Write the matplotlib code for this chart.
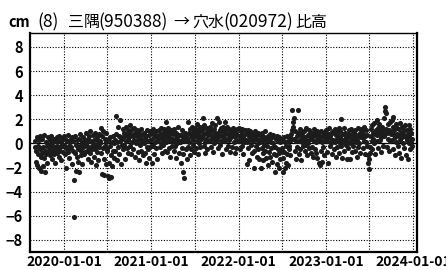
"""
三隅(950388)→穴水(020972) 比高 の時系列プロット
"""
import numpy as np
import pandas as pd
import matplotlib
matplotlib.use('Agg')
import matplotlib.pyplot as plt
import matplotlib.dates as mdates

plt.rcParams['font.family'] = ['Noto Sans CJK JP', 'DejaVu Sans']

# 各月 15 点 (1日, 3日, ... 29日) の読み取り値 [cm]
FIRST_MONTH = "2019-09-01"
STEP_DAYS = 2

vals_2019 = [
    [-0.3, 0.2, -1.5, -0.6, 0.5, -1.8, -0.2, -0.9, 0.3, -2.0, -0.5, 0.6, -1.1, -0.4, -2.3],
    [-0.8, 0.4, -1.9, -0.3, 0.7, -1.2, -0.6, -2.4, 0.1, -0.9, -0.2, -1.6, 0.5, -0.7, -0.1],
    [-0.4, 0.3, -1.0, -0.7, 0.6, -0.2, -1.3, 0.1, -0.5, -0.9, 0.4, -0.3, -1.6, 0.2, -0.6],
    [-0.2, 0.5, -0.8, -0.4, 0.2, -1.1, 0.6, -0.3, -0.6, 0.1, -1.4, -0.1, 0.4, -0.7, -0.2],
]
vals_2020 = [
    [-0.1, 0.6, -0.9, -0.3, 0.3, -2.0, -0.5, 0.2, -0.7, 0.7, -0.2, -1.2, 0.1, -0.4, 0.4],
    [-0.3, 0.5, -1.7, -0.6, 0.2, -3.0, -6.1, -0.8, 0.6, -2.3, -0.1, -1.1, 0.3, -0.5, -1.5],
    [-0.4, 0.4, -2.4, -0.2, 0.8, -1.0, -0.6, 0.1, -1.7, -0.3, 0.5, -0.9, -0.1, 0.3, -0.7],
    [0.0, 0.9, -0.6, -0.2, 0.4, -1.3, 0.6, -0.4, -0.8, 0.2, 1.0, -0.3, -1.5, 0.1, -0.5],
    [-0.2, 0.7, -1.1, 0.3, -0.5, 0.9, -1.8, -0.1, 0.5, -0.7, 0.2, -1.4, 0.8, -0.3, 0.0],
    [0.2, 1.3, -0.8, -2.5, 0.6, -0.4, 1.0, -2.6, -1.3, 0.4, -0.2, 0.9, -1.7, 0.1, -0.6],
    [-0.5, -2.7, 0.3, -1.6, -2.9, -0.2, 0.5, -2.8, -1.0, 0.1, -1.9, -0.6, 0.6, -1.2, 0.0],
    [0.3, -0.6, 2.3, 0.8, -1.4, 0.1, 1.4, -0.3, 0.6, -0.9, 1.9, 0.2, -1.7, 0.5, -0.1],
    [0.4, 1.2, -0.5, 0.9, -0.1, 0.6, -1.3, 1.4, 0.2, -0.4, 0.8, 1.1, -0.8, 0.3, 1.0],
    [0.5, 1.5, -0.2, 0.8, -0.9, 1.2, 0.1, 0.6, -0.5, 1.3, 0.3, -1.1, 0.9, 0.0, 0.7],
    [0.2, 1.1, -0.7, 0.5, -1.4, 0.9, -0.1, 0.4, 1.2, -0.6, 0.1, 0.7, -1.0, 0.3, 0.8],
    [0.0, 0.9, -0.8, 0.4, -1.6, 0.6, -0.3, 1.1, 0.2, -0.5, 0.7, -1.2, 0.3, 1.0, -0.2],
]
vals_2021 = [
    [0.3, -1.6, 0.9, -0.2, 1.2, 0.5, -0.9, 0.1, 0.7, -0.4, 1.0, 0.2, -1.3, 0.6, 0.4],
    [0.5, 1.1, -0.3, 0.8, 0.0, 1.3, -0.8, 0.4, 0.9, -0.1, 0.6, 1.2, -0.6, 0.2, 0.7],
    [0.6, 1.8, 0.1, -0.7, 1.0, 0.3, 1.3, -0.4, 0.5, 0.9, -1.1, 0.2, 1.1, 0.4, -0.2],
    [0.2, 0.8, -0.6, 1.2, 0.4, -0.2, 0.9, -1.2, 0.6, 0.0, 1.4, 0.3, -0.8, 0.7, 0.1],
    [0.1, -1.6, 0.7, -0.4, 1.1, 0.3, -2.4, -0.9, 0.5, -2.9, 0.2, 0.9, -0.5, 0.6, -1.3],
    [0.4, 1.8, -0.3, 0.9, 0.1, -1.0, 1.2, 0.5, -0.5, 0.8, 1.4, -0.1, 0.3, 1.0, -0.7],
    [0.6, 1.3, -0.4, 0.9, 0.2, 1.6, -0.9, 0.5, 1.1, 0.0, 0.7, 1.4, -0.3, 0.4, 1.0],
    [0.5, 1.2, 2.1, -0.2, 0.8, 1.5, 0.1, -0.8, 0.9, 0.4, 1.3, -0.5, 0.7, 1.0, 0.2],
    [0.8, 0.3, 1.4, -0.3, 1.0, 0.6, 1.7, -0.7, 0.4, 1.2, 0.0, 0.9, 1.5, 0.2, 0.6],
    [0.4, 2.1, 0.9, -0.4, 1.8, 0.6, 1.1, -0.1, 0.7, 1.3, 0.2, -0.9, 1.0, 0.5, 1.4],
    [0.7, 1.1, 1.8, 0.2, -0.5, 0.9, 0.4, 1.4, -0.2, 0.8, 0.3, 1.2, -0.7, 0.6, 1.0],
    [0.5, 1.0, -0.3, 0.8, 1.3, 0.1, 0.6, -0.8, 1.1, 0.3, 0.9, -0.4, 0.7, 1.2, 0.2],
]
vals_2022 = [
    [0.6, 1.3, 0.2, -0.5, 1.0, 0.4, 0.8, -0.2, 1.2, 0.5, -0.9, 0.7, 0.1, 1.1, 0.3],
    [0.3, -1.7, 0.9, 0.1, 1.1, -0.4, 0.6, -1.4, 0.4, 1.0, -0.1, 0.7, 0.2, -0.8, 0.5],
    [0.2, 0.8, -0.6, -2.0, 0.5, 1.0, -0.2, 0.4, -1.1, 0.7, 0.0, -0.5, 0.9, 0.3, -1.3],
    [0.1, -2.0, 0.6, -0.4, 0.9, -1.4, 0.3, -0.8, 0.5, -0.1, 1.0, -0.6, 0.2, -1.2, 0.4],
    [-0.2, 0.6, -1.8, 0.3, -0.7, 0.8, -1.1, 0.1, -0.4, 0.5, -1.5, 0.0, 0.7, -0.9, -0.3],
    [-0.3, -2.4, 0.4, -1.0, 0.6, -1.7, -0.5, 0.2, -2.0, 0.5, -0.8, 0.1, -1.3, 0.3, -0.6],
    [-0.4, 0.3, -2.4, -1.2, 0.5, -0.7, -2.0, 0.1, -1.6, -0.2, 0.6, -0.9, -1.8, 0.2, -0.5],
    [-0.2, 0.5, -1.0, 0.3, 0.8, 2.8, 1.1, 1.4, 1.8, 2.1, 0.4, -0.6, 1.0, 0.2, -1.3],
    [0.6, -0.3, 2.8, 0.9, -0.9, 0.2, 1.2, -0.5, 0.4, 0.7, -1.4, 0.1, 0.9, -0.2, 0.5],
    [0.3, 1.0, -0.6, 0.5, -0.1, 1.3, 0.2, -1.0, 0.7, 0.0, 1.1, -0.4, 0.4, 0.8, -0.8],
    [0.4, 0.9, -0.3, 0.6, -1.1, 0.2, 1.2, -0.5, 0.8, 0.1, -0.8, 0.5, 1.0, -1.2, 0.3],
    [0.2, -1.6, 0.7, -1.8, 0.4, -0.6, 1.0, -1.5, 0.1, 0.6, -0.3, 0.9, -1.0, 0.3, 0.5],
]
vals_2023 = [
    [0.4, 1.1, -0.7, 0.2, 0.8, -1.6, 0.5, 1.3, -0.2, 0.6, 0.0, 0.9, -0.9, 0.3, 1.0],
    [0.3, 0.9, -0.5, 1.2, 0.1, -1.1, 0.7, 0.4, -0.3, 1.0, 0.2, -0.8, 0.6, 1.3, 0.0],
    [0.5, 1.0, -0.2, 2.0, 0.3, -1.2, 0.8, 0.1, 1.3, -0.6, 0.4, 0.9, -0.1, 0.6, -1.3],
    [0.2, 0.8, -0.4, 1.1, 0.5, -1.3, 0.0, 0.7, 1.2, -0.7, 0.3, 0.9, -0.2, 0.5, 1.0],
    [0.4, -0.6, 1.1, 0.1, 0.7, -1.1, 0.3, 1.3, -0.3, 0.6, 0.0, 0.9, -0.8, 0.5, 1.2],
    [0.5, 1.0, -0.4, 0.8, 0.2, 1.4, -0.9, 0.6, 0.1, 1.1, -0.2, 0.7, -1.0, -1.6, -2.1],
    [-1.3, -0.8, -0.3, 0.6, 1.2, 0.2, 1.5, -0.5, 0.9, 0.4, 1.7, 0.0, 0.8, -0.9, 1.1],
    [0.7, 1.9, 0.2, 1.3, -0.4, 0.9, 1.6, 0.3, 1.1, -0.7, 0.5, 1.4, 0.8, -0.2, 1.0],
    [0.6, 2.1, 3.0, 2.7, 2.5, 1.2, -0.3, 0.9, 1.6, 0.4, 1.1, -0.6, 1.8, 0.2, 0.8],
    [0.9, 1.9, 0.3, 1.4, -0.5, 2.2, 0.7, 1.1, -1.0, 0.5, 1.6, 0.1, 0.8, 1.3, -0.2],
    [0.6, 1.2, -0.8, 1.7, 0.3, 0.9, -1.2, 0.5, 1.4, 0.0, 0.8, 1.1, -0.4, 0.6, 1.5],
    [0.5, -1.0, 1.1, 0.3, -1.3, 0.8, 1.5, 0.0, 0.6, -0.5, 1.2, 0.2, 0.9, -0.2, 0.4],
]

y_ticks = [-8, -6, -4, -2, 0, 2, 4, 6, 8]
x_tick_years = ["2020-01-01", "2021-01-01", "2022-01-01", "2023-01-01", "2024-01-01"]

# タイトル部品 (左端 x [px], 文字列, 文字サイズ)
title_parts = [
    (37, "(8)", 12.5),
    (68, "三隅", 11.5),
    (98, "(950388)", 12.5),
    (173, "→", 11.5),
    (192, "穴水", 11.5),
    (223, "(020972)", 12.5),
    (295, "比高", 11.5),
]


def build_series():
    rows = vals_2019 + vals_2020 + vals_2021 + vals_2022 + vals_2023
    months = pd.date_range(FIRST_MONTH, periods=len(rows), freq="MS")
    dates, vals = [], []
    for m, row in zip(months, rows):
        for i, v in enumerate(row):
            dates.append(m + pd.Timedelta(days=STEP_DAYS * i))
            vals.append(v)
    return pd.to_datetime(dates), np.array(vals)


def main():
    dates, vals = build_series()

    fig = plt.figure(figsize=(4.46, 2.70), dpi=100)
    ax = fig.add_axes([0.0673, 0.0667, 0.868, 0.811])

    ax.axhline(0, color='black', lw=0.9, zorder=1)
    ax.plot(dates, vals, 'o', ms=3.7, color='#1c1c1c', mew=0, zorder=3)

    ax.set_xlim(pd.Timestamp("2019-08-12"), pd.Timestamp("2024-01-18"))
    ax.set_ylim(-9, 9.15)
    ax.set_yticks(y_ticks)
    ax.set_xticks(pd.to_datetime(x_tick_years))
    ax.xaxis.set_major_formatter(mdates.DateFormatter('%Y-%m-%d'))
    ax.xaxis.set_minor_locator(mdates.MonthLocator(bymonth=[7]))

    ax.grid(which='both', color='black', linestyle=(0, (1, 1.5)), lw=0.8)
    ax.set_axisbelow(True)
    ax.tick_params(which='both', length=0)
    ax.tick_params(axis='y', pad=5)
    ax.tick_params(axis='x', pad=2)

    for lbl in ax.get_xticklabels():
        lbl.set_fontsize(10)
        lbl.set_fontweight('bold')
    for lbl in ax.get_yticklabels():
        lbl.set_fontsize(10.5)
        lbl.set_fontweight('bold')

    for side in ['left', 'bottom', 'right']:
        ax.spines[side].set_linewidth(1.6)
    ax.spines['top'].set_linewidth(1.0)

    ty = 1 - 22 / 270
    fig.text(8 / 446, ty, "cm", fontsize=10.5, fontweight='bold', va='center')
    for x0, s, fs in title_parts:
        fig.text(x0 / 446, ty, s, fontsize=fs, va='center')

    fig.savefig("out.png", dpi=100)
    plt.close(fig)


if __name__ == "__main__":
    main()
